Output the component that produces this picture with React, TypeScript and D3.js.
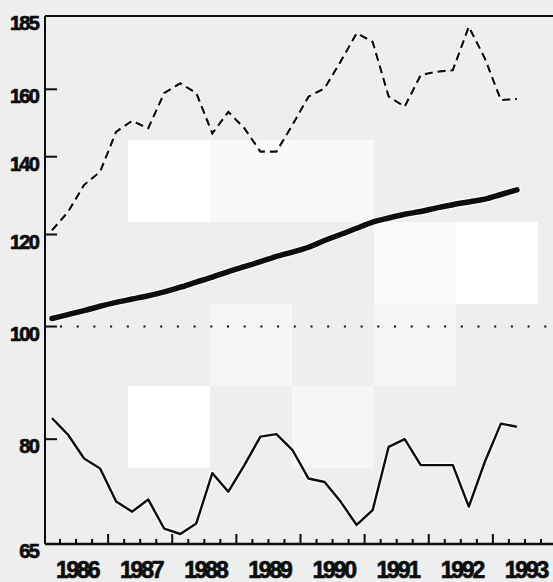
import React from "react";
import * as d3 from "d3";

// Quarterly observations, 1986 Q1 – 1993 Q2
const startYear = 1986;
const dashedSeries = [
  121.0, 125.5, 132.4, 135.9, 147.1, 150.3, 148.1, 158.8, 161.9, 158.8,
  146.6, 153.0, 148.1, 141.4, 141.4, 149.1, 157.7, 160.3, 169.0, 178.8,
  175.8, 157.7, 154.6, 164.6, 165.7, 166.2, 181.1, 170.1, 156.6, 157.0,
];
const thickSeries = [
  101.6, 102.4, 103.2, 104.1, 104.9, 105.6, 106.3, 107.1, 108.1, 109.2,
  110.3, 111.5, 112.6, 113.7, 114.9, 115.9, 117.0, 118.6, 120.0, 121.5,
  123.0, 124.0, 124.9, 125.6, 126.5, 127.3, 128.0, 128.7, 129.9, 131.1,
];
const thinSeries = [
  83.4, 80.7, 77.0, 75.5, 70.7, 69.3, 71.0, 67.0, 66.3, 67.7,
  74.8, 72.1, 76.0, 80.4, 80.8, 78.3, 74.0, 73.5, 70.7, 67.5,
  69.5, 78.8, 80.0, 76.0, 76.0, 76.0, 70.0, 76.5, 82.5, 82.0,
];
const yTickValues = [185, 160, 140, 120, 100, 80, 65];
const yearLabels = [1986, 1987, 1988, 1989, 1990, 1991, 1992, 1993];
const referenceValue = 100;

// decorative background blocks (scan artefacts), in grid cells
const bgBlocks = [
  { col: 0, row: 0, fill: "#ffffff" },
  { col: 1, row: 0, fill: "#f9f9f9" },
  { col: 2, row: 0, fill: "#f8f8f8" },
  { col: 3, row: 1, fill: "#fbfbfb" },
  { col: 4, row: 1, fill: "#ffffff" },
  { col: 1, row: 2, fill: "#f6f6f6" },
  { col: 3, row: 2, fill: "#f5f5f5" },
  { col: 0, row: 3, fill: "#ffffff" },
  { col: 2, row: 3, fill: "#f6f6f6" },
];

const W = 553;
const H = 582;
const left = 45;
const top = 16;
const bottom = 544;

export default function App() {
  const x = d3.scaleLinear().domain([1986, 1994]).range([44, 557]);
  const y = d3.scaleLog().domain([65, 185]).range([bottom, top]);
  const xq = (i: number) => x(startYear + (i + 0.5) / 4);

  const line = d3
    .line<number>()
    .x((_, i) => xq(i))
    .y((d) => y(d))
    .curve(d3.curveLinear);

  const smooth = d3
    .line<number>()
    .x((_, i) => xq(i))
    .y((d) => y(d))
    .curve(d3.curveMonotoneX);

  const quarterTicks = d3.range(1986, 1994.01, 0.25).filter((t) => t > 1986);
  const ink = "#0d0d0d";

  const blockSize = 82;
  const blockX0 = 128;
  const blockY0 = 140;

  const font = "'Liberation Sans', Arial, sans-serif";

  return (
    <svg
      width={W}
      height={H}
      style={{ position: "fixed", left: 0, top: 0, background: "#eeeeee" }}
    >
      <rect x={0} y={0} width={W} height={H} fill="#eeeeee" />
      {bgBlocks.map((b, i) => (
        <rect
          key={i}
          x={blockX0 + b.col * blockSize}
          y={blockY0 + b.row * blockSize}
          width={blockSize}
          height={blockSize}
          fill={b.fill}
        />
      ))}

      {/* frame */}
      <line x1={left} x2={W} y1={top} y2={top} stroke={ink} strokeWidth={2} />
      <line x1={left} x2={left} y1={top} y2={bottom} stroke={ink} strokeWidth={2} />
      <line x1={left} x2={W} y1={bottom} y2={bottom} stroke={ink} strokeWidth={2.5} />

      {/* reference line at 100 */}
      <line
        x1={60}
        x2={W}
        y1={y(referenceValue)}
        y2={y(referenceValue)}
        stroke={ink}
        strokeWidth={2}
        strokeDasharray="2 14.7"
      />

      {/* y ticks and labels */}
      {yTickValues.map((v) => (
        <g key={v}>
          {v !== 185 && v !== 65 && (
            <line x1={left} x2={left + 12} y1={y(v)} y2={y(v)} stroke={ink} strokeWidth={2} />
          )}
          <text
            x={38}
            y={y(v) + 7}
            textAnchor="end"
            dominantBaseline="central"
            fontFamily={font}
            fontWeight="bold"
            fontSize={20}
            letterSpacing={-1.8}
            fill={ink}
            stroke={ink}
            strokeWidth={0.7}
          >
            {v}
          </text>
        </g>
      ))}

      {/* x ticks */}
      {quarterTicks.map((t) => {
        const major = Math.abs(t - Math.round(t)) < 1e-6;
        return (
          <line
            key={t}
            x1={x(t)}
            x2={x(t)}
            y1={bottom}
            y2={bottom - (major ? 10 : 5)}
            stroke={ink}
            strokeWidth={2}
          />
        );
      })}
      {yearLabels.map((yr) => (
        <text
          key={yr}
          x={x(yr + 0.5) + 1}
          y={570}
          textAnchor="middle"
          dominantBaseline="central"
          fontFamily={font}
          fontWeight="bold"
          fontSize={23}
          letterSpacing={-2.2}
          fill={ink}
          stroke={ink}
          strokeWidth={0.7}
        >
          {yr}
        </text>
      ))}

      {/* series */}
      <path d={line(dashedSeries) || ""} fill="none" stroke="#fff" strokeWidth={4.5} strokeDasharray="8 5" opacity={0.9} />
      <path d={line(dashedSeries) || ""} fill="none" stroke={ink} strokeWidth={2.2} strokeDasharray="8 5" />
      <path d={line(thinSeries) || ""} fill="none" stroke="#fff" strokeWidth={5} opacity={0.8} strokeLinejoin="round" />
      <path d={line(thinSeries) || ""} fill="none" stroke={ink} strokeWidth={2.4} strokeLinejoin="round" />
      <path d={smooth(thickSeries) || ""} fill="none" stroke="#fff" strokeWidth={8} opacity={0.8} strokeLinecap="round" />
      <path d={smooth(thickSeries) || ""} fill="none" stroke={ink} strokeWidth={5.5} strokeLinecap="round" strokeLinejoin="round" />
    </svg>
  );
}
